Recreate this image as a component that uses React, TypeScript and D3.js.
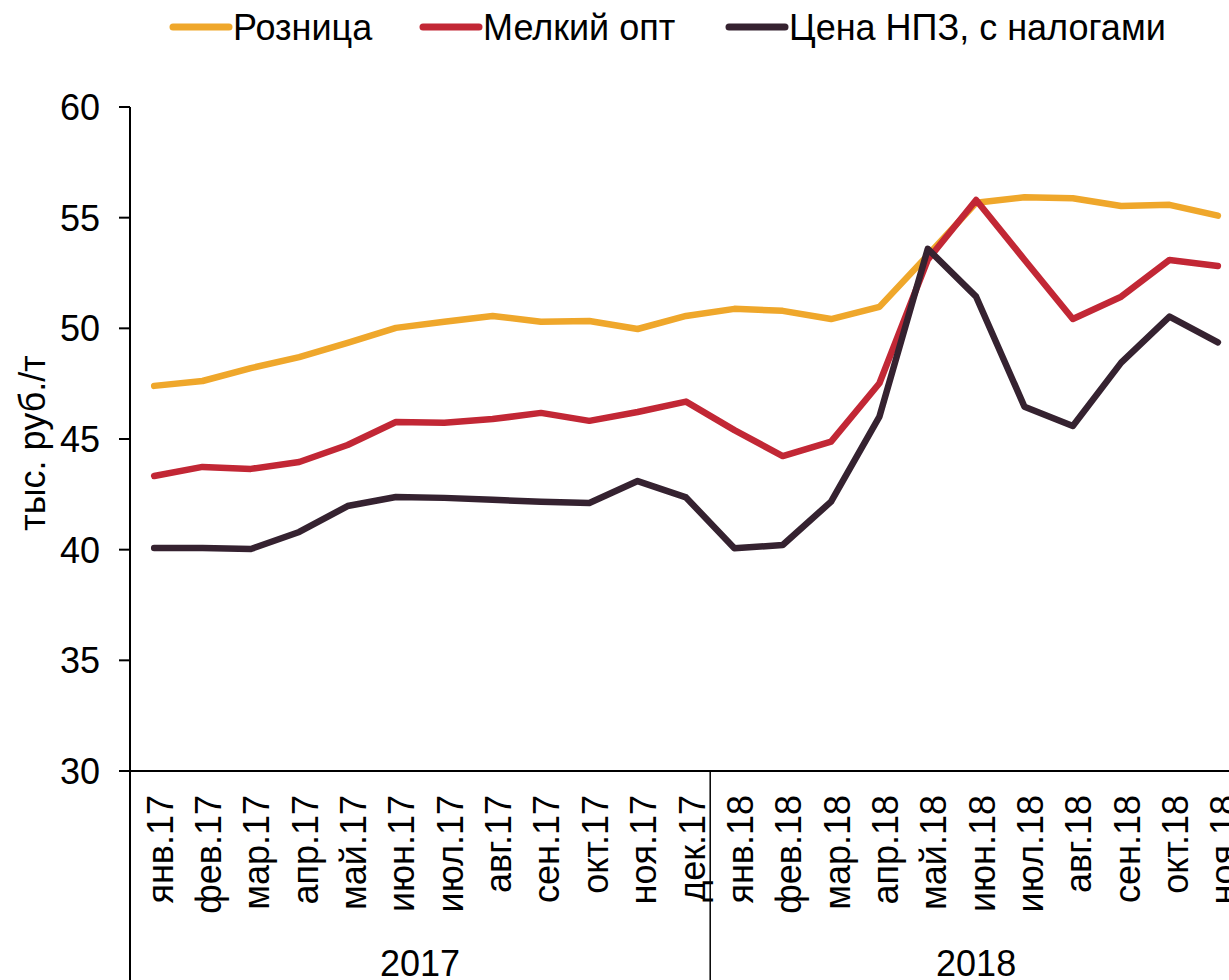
import React from "react";
import * as d3 from "d3";

const categories = [
  "янв.17", "фев.17", "мар.17", "апр.17", "май.17", "июн.17", "июл.17", "авг.17", "сен.17", "окт.17", "ноя.17", "дек.17",
  "янв.18", "фев.18", "мар.18", "апр.18", "май.18", "июн.18", "июл.18", "авг.18", "сен.18", "окт.18", "ноя.18",
];
const years = [
  { label: "2017", from: 0, to: 12 },
  { label: "2018", from: 12, to: 23 },
];
const retail = [47.4, 47.62, 48.2, 48.7, 49.34, 50.02, 50.3, 50.56, 50.3, 50.33, 49.97, 50.56,
  50.88, 50.79, 50.42, 50.97, 53.3, 55.67, 55.92, 55.88, 55.53, 55.58, 55.09];
const smallWholesale = [43.33, 43.74, 43.65, 43.96, 44.73, 45.77, 45.73, 45.9, 46.18, 45.82, 46.22, 46.69,
  45.4, 44.23, 44.88, 47.52, 53.1, 55.8, 53.1, 50.42, 51.43, 53.09, 52.82];
const refinery = [40.08, 40.08, 40.03, 40.8, 41.97, 42.38, 42.34, 42.25, 42.16, 42.11, 43.1, 42.36,
  40.06, 40.21, 42.17, 46.01, 53.59, 51.43, 46.46, 45.59, 48.45, 50.53, 49.37];
const yTicks = [30, 35, 40, 45, 50, 55, 60];

const series = [
  { name: "Розница", values: retail, color: "#EFA72B" },
  { name: "Мелкий опт", values: smallWholesale, color: "#C22735" },
  { name: "Цена НПЗ, с налогами", values: refinery, color: "#352230" },
];

export default function App() {
  const W = 1229, H = 980;
  const left = 130, top = 107, bottom = 771;
  const bw = 48.35;
  const x = d3.scaleLinear().domain([0, categories.length]).range([left, left + categories.length * bw]);
  const y = d3.scaleLinear().domain([30, 60]).range([bottom, top]);
  const line = d3.line<number>().x((_, i) => x(i + 0.5)).y((d) => y(d));
  const font = "'Liberation Sans', Arial, sans-serif";
  const legendPos = [173, 423, 729];

  return (
    <svg width={W} height={H} style={{ position: "absolute", left: 0, top: 0, background: "#fff" }} fontFamily={font}>
      {/* legend */}
      {series.map((s, i) => (
        <g key={s.name}>
          <line x1={legendPos[i]} x2={legendPos[i] + 56} y1={27} y2={27} stroke={s.color} strokeWidth={7} strokeLinecap="round" />
          <text x={legendPos[i] + 60} y={40} fontSize={36} fill="#000">{s.name}</text>
        </g>
      ))}
      {/* y axis */}
      <line x1={left} x2={left} y1={top} y2={H} stroke="#000" strokeWidth={2} />
      {yTicks.map((t) => (
        <g key={t}>
          <line x1={119} x2={left} y1={y(t)} y2={y(t)} stroke="#000" strokeWidth={2} />
          <text x={100} y={y(t)} dy="0.36em" textAnchor="end" fontSize={36} fill="#000">{t}</text>
        </g>
      ))}
      <text transform={`translate(45,443) rotate(-90)`} textAnchor="middle" fontSize={36} fill="#000">тыс. руб./т</text>
      {/* x axis */}
      <line x1={119} x2={W} y1={bottom} y2={bottom} stroke="#000" strokeWidth={2} />
      {years.map((yr) => (
        <g key={yr.label}>
          {yr.from > 0 && <line x1={x(yr.from)} x2={x(yr.from)} y1={bottom} y2={H} stroke="#000" strokeWidth={1.5} />}
          <text x={(x(yr.from) + x(yr.to)) / 2} y={976} textAnchor="middle" fontSize={36} fill="#000">{yr.label}</text>
        </g>
      ))}
      {categories.map((c, i) => (
        <text key={c} transform={`translate(${x(i + 0.5) + 18.5},${795}) rotate(-90)`} textAnchor="end" fontSize={36} fill="#000">{c}</text>
      ))}
      {/* lines */}
      {series.map((s) => (
        <path key={s.name} d={line(s.values) || ""} fill="none" stroke={s.color} strokeWidth={6.5} strokeLinejoin="round" strokeLinecap="round" />
      ))}
    </svg>
  );
}
